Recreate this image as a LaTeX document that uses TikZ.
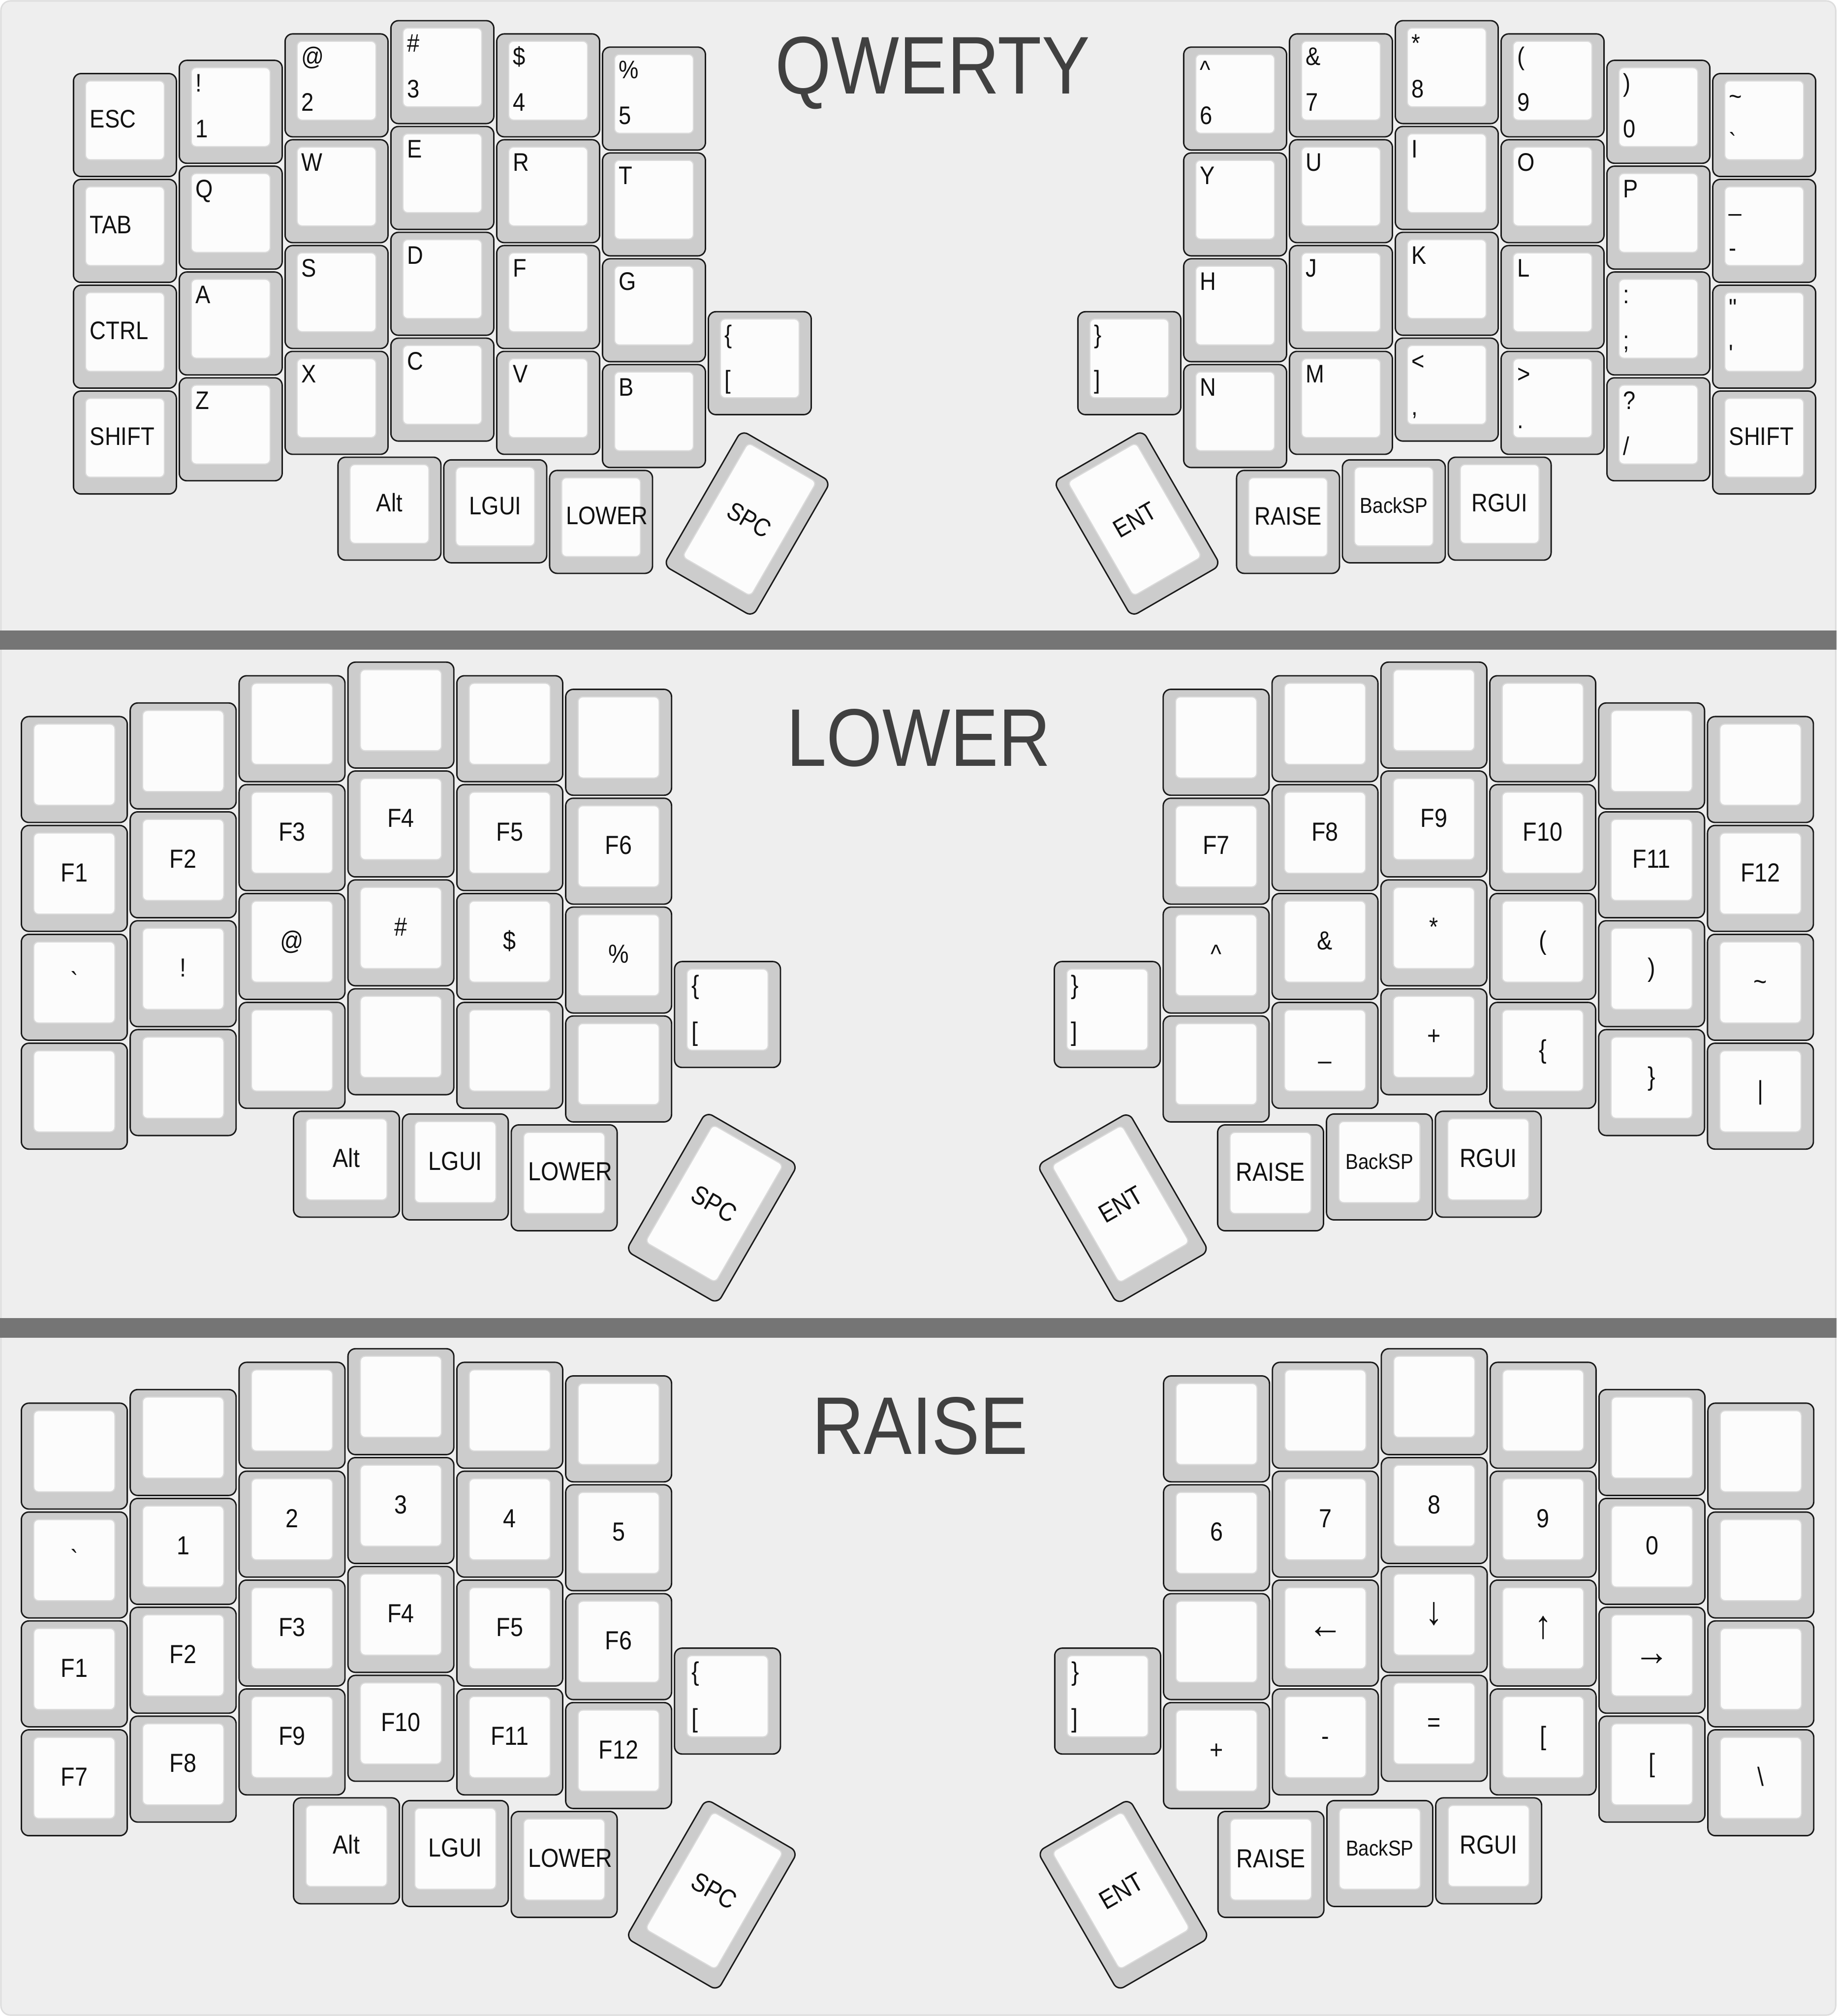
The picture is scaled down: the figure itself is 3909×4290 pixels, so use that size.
\documentclass[tikz,border=0pt]{standalone}
\usepackage{fontspec}
\newfontfamily\keyfont[FakeStretch=0.88,Ligatures=TeXOff]{Liberation Sans}
\newfontfamily\titlefont[FakeStretch=0.88]{Liberation Sans}
\definecolor{bgc}{HTML}{EEEEEE}
\definecolor{framec}{HTML}{DDDDDD}
\definecolor{barc}{HTML}{757575}
\definecolor{capc}{HTML}{CCCCCC}
\definecolor{edgec}{HTML}{1A1A1A}
\definecolor{topc}{HTML}{FCFCFC}
\definecolor{toplinec}{HTML}{DADADA}
\definecolor{txtc}{HTML}{111111}
\definecolor{titlec}{HTML}{404040}
\def\lblfont{\keyfont\fontsize{13.5}{15}\selectfont}
\def\smallfont{\keyfont\fontsize{11.5}{13}\selectfont}
\newcommand\arw[1]{{\fontsize{21}{22}\selectfont\raisebox{-1pt}{#1}}}
\tikzset{
  keyout/.style={fill=capc,draw=edgec,line width=0.75pt,rounded corners=4pt},
  keyin/.style={fill=topc,draw=toplinec,line width=0.6pt,rounded corners=2.5pt},
  lbl/.style={font=\lblfont,text=txtc,inner sep=0pt},
  slbl/.style={font=\smallfont,text=txtc,inner sep=0pt},
  title/.style={font={\titlefont\fontsize{43.5}{50}\selectfont},text=titlec,inner sep=0pt,anchor=base}
}
\newcount\kn
\newcommand\setpanel[3]{\def\kU{#1}\def\kOX{#2}\def\kOY{#3}%
  \pgfmathsetmacro\kW{0.9725*\kU}\pgfmathsetmacro\kSI{0.1137*\kU}%
  \pgfmathsetmacro\kTI{0.0693*\kU}\pgfmathsetmacro\kBI{0.1585*\kU}%
  \pgfmathsetmacro\kH{1.4725*\kU}}
\newcommand\capat[2]{%
  \global\advance\kn by 1
  \pgfmathsetmacro\kX{\kOX+(#1)*\kU}\pgfmathsetmacro\kY{\kOY+(#2)*\kU}%
  \filldraw[keyout] (\kX,\kY) rectangle ++(\kW,\kW);
  \filldraw[keyin] (\kX+\kSI,\kY+\kTI) rectangle (\kX+\kW-\kSI,\kY+\kW-\kBI);}
% centered label (blank if empty)
\newcommand\kc[3]{\capat{#1}{#2}%
  \if\relax\detokenize{#3}\relax\else
  \node[lbl,anchor=base] (k\the\kn) at (\kX+\kW/2,\kY+0.515*\kU) {#3};\fi}
% centered, smaller font
\newcommand\kcs[3]{\capat{#1}{#2}%
  \node[slbl,anchor=base] (k\the\kn) at (\kX+\kW/2,\kY+0.505*\kU) {#3};}
% top-left label
\newcommand\kt[3]{\capat{#1}{#2}%
  \node[lbl,anchor=base west] (k\the\kn) at (\kX+0.152*\kU,\kY+0.2975*\kU) {#3};}
% two labels: top-left and bottom-left
\newcommand\kd[4]{\capat{#1}{#2}%
  \node[lbl,anchor=base west] (k\the\kn a) at (\kX+0.152*\kU,\kY+0.2975*\kU) {#3};
  \node[lbl,anchor=base west] (k\the\kn b) at (\kX+0.152*\kU,\kY+0.728*\kU) {#4};}
% middle-left label
\newcommand\km[3]{\capat{#1}{#2}%
  \node[lbl,anchor=base west] (k\the\kn) at (\kX+0.152*\kU,\kY+0.512*\kU) {#3};}
% column of four centered keys
\newcommand\colc[6]{\kc{#1}{#2}{#3}\kc{#1}{#2+1}{#4}\kc{#1}{#2+2}{#5}\kc{#1}{#2+3}{#6}}
% rotated 1x1.5 key, centre in px
\newcommand\krot[4]{%
  \global\advance\kn by 1
  \begin{scope}[shift={(#1,#2)},rotate=#3]
  \filldraw[keyout] (-\kW/2,-\kH/2) rectangle (\kW/2,\kH/2);
  \filldraw[keyin] (-\kW/2+\kSI,-\kH/2+\kTI) rectangle (\kW/2-\kSI,\kH/2-\kBI);
  \node[lbl,anchor=base,rotate=#3] (k\the\kn) at (0,{(\kTI-\kBI)/2+0.087*\kU}) {#4};
  \end{scope}}
\begin{document}
\begin{tikzpicture}[x=0.25pt,y=-0.25pt]
\useasboundingbox (0,0) rectangle (3909,4290);
\fill[white] (0,0) rectangle (3909,4290);
\filldraw[fill=bgc,draw=framec,line width=0.75pt,rounded corners=5pt] (2,2) rectangle (3907,4288);
\fill[barc] (0,1342) rectangle (3909,1383);
\fill[barc] (0,2805) rectangle (3909,2847);

% ================= QWERTY =================
\node[title] (tq) at (1985,200) {QWERTY};
\setpanel{225.2}{156.4}{44}
\km{0}{0.5}{ESC}
\km{0}{1.5}{TAB}
\km{0}{2.5}{CTRL}
\km{0}{3.5}{SHIFT}
\kd{1}{0.375}{!}{1}
\kt{1}{1.375}{Q}
\kt{1}{2.375}{A}
\kt{1}{3.375}{Z}
\kd{2}{0.125}{@}{2}
\kt{2}{1.125}{W}
\kt{2}{2.125}{S}
\kt{2}{3.125}{X}
\kd{3}{0}{\#}{3}
\kt{3}{1}{E}
\kt{3}{2}{D}
\kt{3}{3}{C}
\kd{4}{0.125}{\$}{4}
\kt{4}{1.125}{R}
\kt{4}{2.125}{F}
\kt{4}{3.125}{V}
\kd{5}{0.25}{\%}{5}
\kt{5}{1.25}{T}
\kt{5}{2.25}{G}
\kt{5}{3.25}{B}
\kd{6}{2.75}{\{}{[}
\kc{2.5}{4.125}{Alt}
\kc{3.5}{4.15}{LGUI}
\km{4.5}{4.25}{LOWER}
\krot{1590}{1114}{-30}{SPC}
\def\kOX{2519.3}
\kd{0}{0.25}{\char"5E}{6}
\kt{0}{1.25}{Y}
\kt{0}{2.25}{H}
\kt{0}{3.25}{N}
\kd{1}{0.125}{\&}{7}
\kt{1}{1.125}{U}
\kt{1}{2.125}{J}
\kt{1}{3.125}{M}
\kd{2}{0}{*}{8}
\kt{2}{1}{I}
\kt{2}{2}{K}
\kd{2}{3}{<}{,}
\kd{3}{0.125}{(}{9}
\kt{3}{1.125}{O}
\kt{3}{2.125}{L}
\kd{3}{3.125}{>}{.}
\kd{4}{0.375}{)}{0}
\kt{4}{1.375}{P}
\kd{4}{2.375}{:}{;}
\kd{4}{3.375}{?}{/}
\kd{5}{0.5}{\char"7E}{\char"60}
\kd{5}{1.5}{\char"5F}{-}
\kd{5}{2.5}{\char"22}{\char"27}
\km{5}{3.5}{SHIFT}
\kd{-1}{2.75}{\}}{]}
\kc{0.5}{4.25}{RAISE}
\kcs{1.5}{4.15}{BackSP}
\kc{2.5}{4.125}{RGUI}
\krot{2420}{1114}{30}{ENT}

% ================= LOWER =================
\def\lblfont{\keyfont\fontsize{13.9}{15}\selectfont}
\node[title] (tl) at (1955,1630) {LOWER};
\setpanel{231.7}{45.5}{1409}
\colc{0}{0.5}{}{F1}{\char"60}{}
\colc{1}{0.375}{}{F2}{!}{}
\colc{2}{0.125}{}{F3}{@}{}
\colc{3}{0}{}{F4}{\#}{}
\colc{4}{0.125}{}{F5}{\$}{}
\colc{5}{0.25}{}{F6}{\%}{}
\kd{6}{2.75}{\{}{[}
\kc{2.5}{4.125}{Alt}
\kc{3.5}{4.15}{LGUI}
\km{4.5}{4.25}{LOWER}
\krot{1515}{2570}{-30}{SPC}
\def\kOX{2475.7}
\colc{0}{0.25}{}{F7}{\char"5E}{}
\colc{1}{0.125}{}{F8}{\&}{\char"5F}
\colc{2}{0}{}{F9}{*}{+}
\colc{3}{0.125}{}{F10}{(}{\{}
\colc{4}{0.375}{}{F11}{)}{\}}
\colc{5}{0.5}{}{F12}{\char"7E}{\char"7C}
\kd{-1}{2.75}{\}}{]}
\kc{0.5}{4.25}{RAISE}
\kcs{1.5}{4.15}{BackSP}
\kc{2.5}{4.125}{RGUI}
\krot{2390}{2571}{30}{ENT}

% ================= RAISE =================
\node[title] (tr) at (1958,3094) {RAISE};
\setpanel{231.7}{45.5}{2870}
\colc{0}{0.5}{}{\char"60}{F1}{F7}
\colc{1}{0.375}{}{1}{F2}{F8}
\colc{2}{0.125}{}{2}{F3}{F9}
\colc{3}{0}{}{3}{F4}{F10}
\colc{4}{0.125}{}{4}{F5}{F11}
\colc{5}{0.25}{}{5}{F6}{F12}
\kd{6}{2.75}{\{}{[}
\kc{2.5}{4.125}{Alt}
\kc{3.5}{4.15}{LGUI}
\km{4.5}{4.25}{LOWER}
\krot{1515}{4032}{-30}{SPC}
\def\kOX{2476.5}
\colc{0}{0.25}{}{6}{}{+}
\colc{1}{0.125}{}{7}{\arw{←}}{-}
\colc{2}{0}{}{8}{\arw{↓}}{=}
\colc{3}{0.125}{}{9}{\arw{↑}}{[}
\colc{4}{0.375}{}{0}{\arw{→}}{[}
\colc{5}{0.5}{}{}{}{\char"5C}
\kd{-1}{2.75}{\}}{]}
\kc{0.5}{4.25}{RAISE}
\kcs{1.5}{4.15}{BackSP}
\kc{2.5}{4.125}{RGUI}
\krot{2391}{4032}{30}{ENT}
\end{tikzpicture}
\end{document}
